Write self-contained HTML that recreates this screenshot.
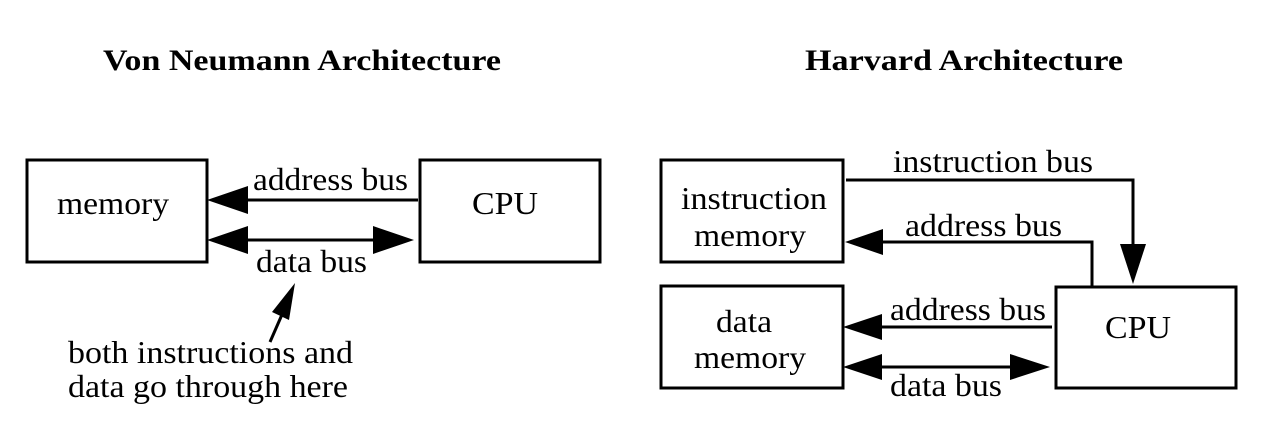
<!DOCTYPE html>
<html><head><meta charset="utf-8"><style>
html,body{margin:0;padding:0;background:#fff;}
svg{display:block;}
text{font-family:"Liberation Serif",serif;fill:#000;}
</style></head><body>
<svg width="1280" height="432" viewBox="0 0 1280 432" xmlns="http://www.w3.org/2000/svg">
<rect width="1280" height="432" fill="#fff"/>
<text x="302" y="70" font-size="30" font-weight="bold" text-anchor="middle" textLength="398" lengthAdjust="spacingAndGlyphs">Von Neumann Architecture</text>
<text x="964" y="70" font-size="30" font-weight="bold" text-anchor="middle" textLength="318" lengthAdjust="spacingAndGlyphs">Harvard Architecture</text>
<g fill="none" stroke="#000" stroke-width="3">
<rect x="27" y="160" width="180" height="102"/>
<rect x="420" y="160" width="180" height="102"/>
<rect x="661" y="160" width="182" height="102"/>
<rect x="661" y="286" width="182" height="102"/>
<rect x="1056" y="287" width="180" height="101"/>
<line x1="245" y1="200" x2="418" y2="200"/>
<line x1="245" y1="240" x2="375" y2="240"/>
<line x1="270" y1="342" x2="284" y2="310"/>
<polyline points="846,180 1133,180 1133,245"/>
<polyline points="1092,286 1092,242 880,242"/>
<line x1="880" y1="327" x2="1052" y2="327"/>
<line x1="880" y1="367" x2="1012" y2="367"/>
</g>
<g fill="#000">
<polygon points="207,200 248,186 248,214"/>
<polygon points="207,240 248,226 248,254"/>
<polygon points="414,240 373,226 373,254"/>
<polygon points="295,283 272,312 289,320"/>
<polygon points="1133,284 1120,244 1146,244"/>
<polygon points="845,242 883,229 883,255"/>
<polygon points="843,327 882,314 882,340"/>
<polygon points="843,367 882,354 882,380"/>
<polygon points="1050,367 1010,354 1010,380"/>
</g>
<g font-size="32">
<text x="113" y="214" text-anchor="middle" textLength="112" lengthAdjust="spacingAndGlyphs">memory</text>
<text x="505" y="214" text-anchor="middle" textLength="66" lengthAdjust="spacingAndGlyphs">CPU</text>
<text x="253" y="190" textLength="155" lengthAdjust="spacingAndGlyphs">address bus</text>
<text x="256" y="272" textLength="111" lengthAdjust="spacingAndGlyphs">data bus</text>
<text x="68" y="363" textLength="285" lengthAdjust="spacingAndGlyphs">both instructions and</text>
<text x="68" y="397" textLength="280" lengthAdjust="spacingAndGlyphs">data go through here</text>
<text x="754" y="209" text-anchor="middle" textLength="146" lengthAdjust="spacingAndGlyphs">instruction</text>
<text x="750" y="246" text-anchor="middle" textLength="112" lengthAdjust="spacingAndGlyphs">memory</text>
<text x="744" y="332" text-anchor="middle" textLength="56" lengthAdjust="spacingAndGlyphs">data</text>
<text x="750" y="368" text-anchor="middle" textLength="112" lengthAdjust="spacingAndGlyphs">memory</text>
<text x="1138" y="338" text-anchor="middle" textLength="66" lengthAdjust="spacingAndGlyphs">CPU</text>
<text x="893" y="172" textLength="200" lengthAdjust="spacingAndGlyphs">instruction bus</text>
<text x="905" y="236" textLength="157" lengthAdjust="spacingAndGlyphs">address bus</text>
<text x="890" y="320" textLength="156" lengthAdjust="spacingAndGlyphs">address bus</text>
<text x="890" y="396" textLength="112" lengthAdjust="spacingAndGlyphs">data bus</text>
</g>
</svg>
</body></html>
